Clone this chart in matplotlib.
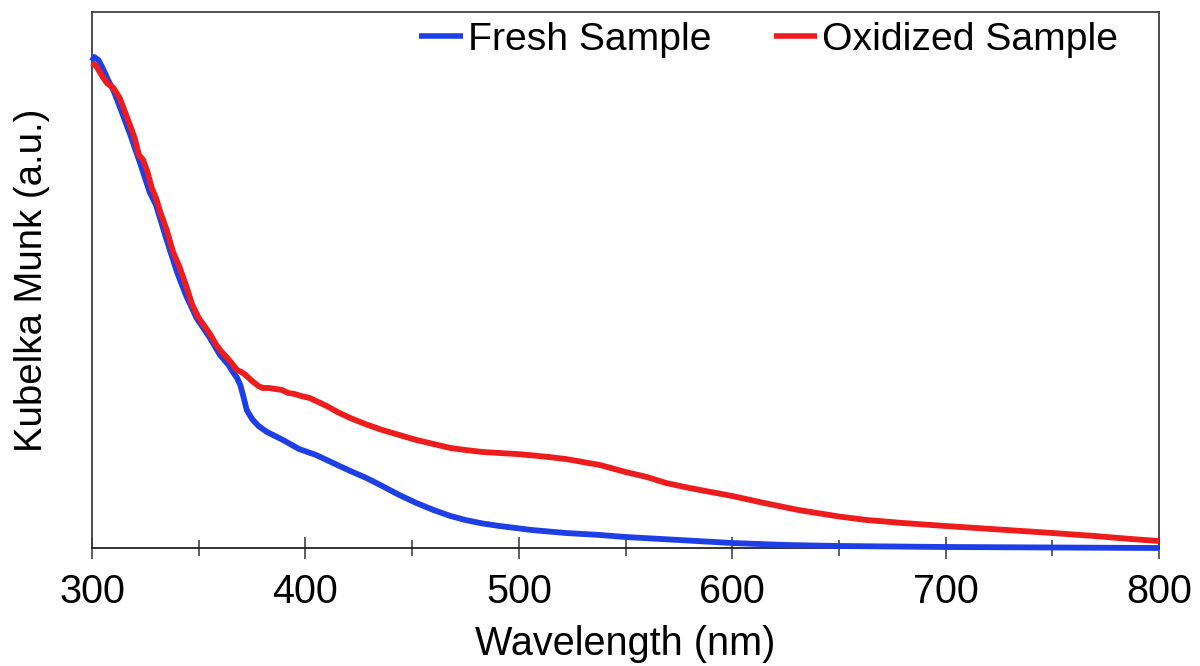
import matplotlib
matplotlib.use("Agg")
import matplotlib.pyplot as plt
from matplotlib.ticker import MultipleLocator, NullLocator

plt.rcParams['font.family'] = ['Liberation Sans', 'DejaVu Sans']

# Wavelength (nm) and Kubelka-Munk values (a.u.)
fresh_wl = [300, 301, 303, 305, 307.5, 310, 313.6, 318, 323, 327, 330, 335, 340, 344,
            349, 355, 360, 364, 366, 368, 369.5, 371, 372.5, 375, 378, 382, 389.5, 397,
            405, 413, 420, 428.6, 436, 444, 452, 460, 468, 475, 483, 491, 506, 522,
            538, 550, 575, 600, 625, 650, 700, 750, 800]
fresh_km = [4.87, 4.91, 4.88, 4.80, 4.68, 4.58, 4.38, 4.13, 3.82, 3.56, 3.43, 3.08,
            2.75, 2.53, 2.30, 2.11, 1.93, 1.83, 1.76, 1.70, 1.63, 1.51, 1.38, 1.29,
            1.22, 1.16, 1.08, 0.99, 0.93, 0.85, 0.78, 0.70, 0.62, 0.53, 0.45, 0.38,
            0.32, 0.28, 0.245, 0.22, 0.18, 0.15, 0.13, 0.11, 0.08, 0.05, 0.03, 0.02,
            0.01, 0.005, 0.0]

oxid_wl = [300, 302, 305, 307, 310, 313, 316, 320, 322, 324, 326, 328, 330, 332, 335,
           338, 341, 344, 347, 350, 353, 355, 358, 360, 363, 365, 368, 370, 372, 375,
           378, 380, 383, 386, 389, 392, 395, 398, 402, 405, 410, 415, 421, 428, 436,
           444, 452, 460, 468, 475, 483, 491, 499, 507, 514, 522, 530, 538, 550, 560,
           569, 580, 590, 600, 615, 631, 650, 663, 680, 700, 725, 750, 770, 781, 790,
           800]
oxid_km = [4.85, 4.82, 4.71, 4.65, 4.60, 4.50, 4.33, 4.10, 3.93, 3.88, 3.76, 3.60,
           3.50, 3.36, 3.18, 2.96, 2.81, 2.63, 2.43, 2.30, 2.21, 2.15, 2.04, 1.98,
           1.91, 1.86, 1.78, 1.76, 1.73, 1.67, 1.62, 1.60, 1.60, 1.59, 1.58, 1.55,
           1.54, 1.52, 1.50, 1.47, 1.42, 1.36, 1.30, 1.24, 1.18, 1.13, 1.08, 1.04,
           1.00, 0.98, 0.96, 0.95, 0.94, 0.925, 0.91, 0.89, 0.86, 0.83, 0.76, 0.71,
           0.65, 0.60, 0.56, 0.52, 0.45, 0.38, 0.315, 0.28, 0.25, 0.22, 0.185, 0.15,
           0.12, 0.10, 0.085, 0.07]

series_labels = ["Fresh Sample", "Oxidized Sample"]
x_label = "Wavelength (nm)"
y_label = "Kubelka Munk (a.u.)"

fig = plt.figure(figsize=(12, 6.66), dpi=100)
ax = fig.add_axes([92 / 1200, 118 / 666, (1159 - 92) / 1200, (548 - 12) / 666])

ax.plot(fresh_wl, fresh_km, color='#1f3fe6', lw=4.2, label=series_labels[0],
        solid_capstyle='butt', solid_joinstyle='round', clip_on=False, zorder=3)
ax.plot(oxid_wl, oxid_km, color='#ee1c1c', lw=4.2, label=series_labels[1],
        solid_capstyle='butt', solid_joinstyle='round', clip_on=False, zorder=4)

ax.set_xlim(300, 800)
ax.set_ylim(0, 5.36)

ax.xaxis.set_major_locator(MultipleLocator(100))
ax.xaxis.set_minor_locator(MultipleLocator(50))
ax.yaxis.set_major_locator(NullLocator())
ax.tick_params(axis='x', which='major', direction='inout', length=16, width=1.1,
               color='#333333', labelsize=28.5, pad=10)
ax.tick_params(axis='x', which='minor', direction='inout', length=12, width=1.1,
               color='#333333')
for s in ax.spines.values():
    s.set_color('#404040')
    s.set_linewidth(1.3)
ax.spines['bottom'].set_color('#222222')

ax.set_xlabel(x_label, fontsize=28.5, labelpad=10)
ax.set_ylabel(y_label, fontsize=27.6, labelpad=30)

leg = ax.legend(loc='upper right', ncol=2, frameon=False, fontsize=28.2,
                handlelength=1.1, handletextpad=0.13, columnspacing=1.6,
                borderpad=0, borderaxespad=0,
                bbox_to_anchor=(1118 / 1200, (666 - 22) / 666),
                bbox_transform=fig.transFigure)
for h in leg.get_lines():
    h.set_linewidth(4)

fig.savefig("out.png", dpi=100)
